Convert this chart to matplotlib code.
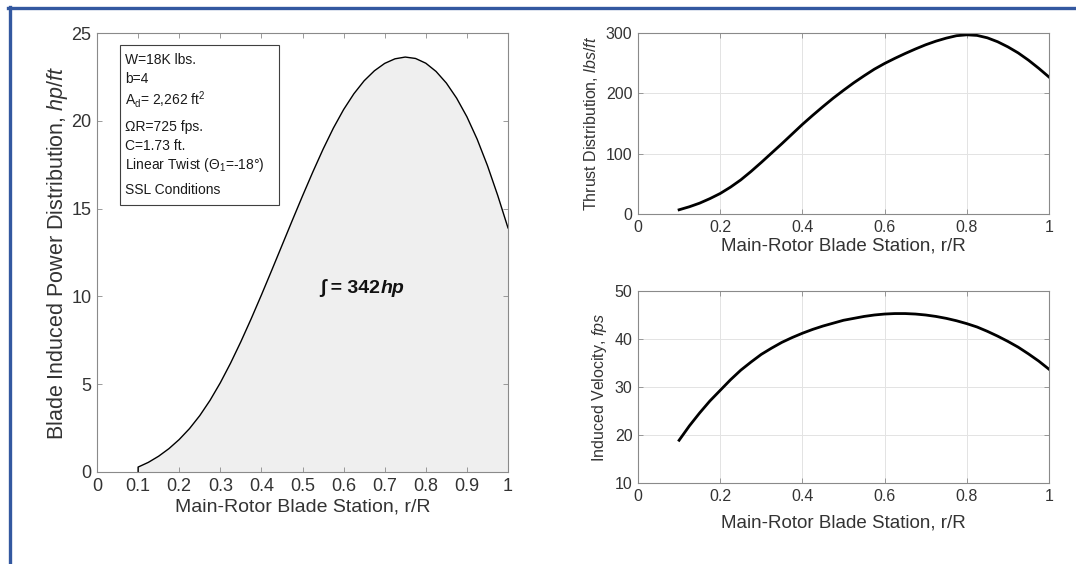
import matplotlib
matplotlib.use('Agg')
import matplotlib.pyplot as plt
from matplotlib.patches import Rectangle
from matplotlib.lines import Line2D
import numpy as np

plt.rcParams['font.family'] = ['Liberation Sans', 'DejaVu Sans']
plt.rcParams['mathtext.fontset'] = 'custom'
plt.rcParams['mathtext.rm'] = 'Liberation Sans'
plt.rcParams['mathtext.it'] = 'Liberation Sans:italic'
plt.rcParams['mathtext.bf'] = 'Liberation Sans:bold'

# Data
station = [0.100, 0.125, 0.150, 0.175, 0.200, 0.225, 0.250, 0.275, 0.300,
           0.325, 0.350, 0.375, 0.400, 0.425, 0.450, 0.475, 0.500, 0.525,
           0.550, 0.575, 0.600, 0.625, 0.650, 0.675, 0.700, 0.725, 0.750,
           0.775, 0.800, 0.825, 0.850, 0.875, 0.900, 0.925, 0.950, 0.975, 1.000]
power = [0.28, 0.55, 0.90, 1.33, 1.85, 2.47, 3.21, 4.08, 5.08,
         6.20, 7.42, 8.72, 10.08, 11.48, 12.90, 14.32, 15.72, 17.08,
         18.38, 19.58, 20.64, 21.54, 22.28, 22.85, 23.27, 23.53, 23.63,
         23.55, 23.28, 22.81, 22.15, 21.29, 20.23, 18.95, 17.45, 15.75, 13.90]
thrust = [7, 12, 18, 25.5, 34, 44.5, 56.5, 70.5, 85.5,
          101, 116.5, 132.5, 148.5, 163.5, 178, 192, 205, 217.5,
          229, 240, 249.5, 258, 266, 273.5, 280.5, 286.5, 291.5,
          295.5, 297, 296, 292, 285.5, 277, 267, 255, 241.5, 227]
velocity = [18.9, 21.9, 24.6, 27.1, 29.3, 31.5, 33.5, 35.2, 36.8,
            38.1, 39.3, 40.3, 41.2, 42.0, 42.7, 43.3, 43.9, 44.3,
            44.7, 45.0, 45.2, 45.3, 45.3, 45.2, 45.0, 44.7, 44.3,
            43.8, 43.2, 42.5, 41.6, 40.6, 39.5, 38.3, 36.9, 35.4, 33.7]

box_lines = ['W=18K lbs.', 'b=4', r'A$_\mathrm{d}$= 2,262 ft$^\mathrm{2}$',
             'ΩR=725 fps.', 'C=1.73 ft.', r'Linear Twist (Θ$_\mathrm{1}$=-18°)',
             'SSL Conditions']
box_baselines = [63.5, 83, 105, 130.5, 149.5, 169, 193.5]  # pixel rows

W, H = 1076, 564
fig = plt.figure(figsize=(W / 100, H / 100), dpi=100)

tick_col = '#333333'
spine_col = '#8a8a8a'


def style(ax, fs):
    ax.tick_params(direction='in', top=True, right=True, length=3.5, width=0.6,
                   color=spine_col, labelcolor=tick_col, labelsize=fs, pad=4)
    for s in ax.spines.values():
        s.set_color(spine_col)
        s.set_linewidth(0.8)


# Left: induced power distribution
ax1 = fig.add_axes([97 / W, (H - 472) / H, 411 / W, 439 / H])
ax1.fill_between(station, power, 0, facecolor='#efefef', edgecolor='none')
ax1.plot(np.r_[station[0], station], np.r_[0, power], color='black', lw=1.0)
ax1.set_xlim(0, 1)
ax1.set_ylim(0, 25)
ax1.set_xticks(np.arange(0, 1.01, 0.1))
ax1.set_xticklabels(['0', '0.1', '0.2', '0.3', '0.4', '0.5', '0.6', '0.7', '0.8', '0.9', '1'])
ax1.set_yticks([0, 5, 10, 15, 20, 25])
style(ax1, 13)
ax1.set_xlabel('Main-Rotor Blade Station, r/R', fontsize=14, color=tick_col, labelpad=3)
ax1.set_ylabel(r'Blade Induced Power Distribution, $\mathit{hp/ft}$', fontsize=15.5,
               color=tick_col, labelpad=1)

ax1.add_patch(Rectangle((0.056, 0.608), 0.387, 0.365, transform=ax1.transAxes,
                        facecolor='white', edgecolor='#404040', lw=0.8, zorder=3))
for line, b in zip(box_lines, box_baselines):
    ax1.text(0.068, (472 - b) / 439, line, transform=ax1.transAxes, fontsize=10,
             va='baseline', ha='left', color='#1a1a1a', zorder=4)

t1 = ax1.text(0.617, 10.5, '∫ = 342', fontsize=14, fontweight='bold',
              ha='center', va='center', color='#111111')
ax1.annotate('hp', xy=(1, 0), xycoords=t1, va='bottom', ha='left', fontsize=14,
             fontweight='bold', fontstyle='italic', color='#111111')

# Top right: thrust distribution
ax2 = fig.add_axes([638 / W, (H - 214) / H, 411 / W, 181 / H])
ax2.plot(station, thrust, color='black', lw=2.0)
ax2.set_xlim(0, 1)
ax2.set_ylim(0, 300)
ax2.set_xticks([0, 0.2, 0.4, 0.6, 0.8, 1.0])
ax2.set_xticklabels(['0', '0.2', '0.4', '0.6', '0.8', '1'])
ax2.set_yticks([0, 100, 200, 300])
ax2.grid(True, color='#e3e3e3', lw=0.7)
style(ax2, 11.5)
ax2.set_xlabel('Main-Rotor Blade Station, r/R', fontsize=13.5, color=tick_col, labelpad=2)
ax2.set_ylabel(r'Thrust Distribution, $\mathit{lbs/ft}$', fontsize=11.5, color=tick_col)

# Bottom right: induced velocity
ax3 = fig.add_axes([638 / W, (H - 483) / H, 411 / W, 192 / H])
ax3.plot(station, velocity, color='black', lw=2.0)
ax3.set_xlim(0, 1)
ax3.set_ylim(10, 50)
ax3.set_xticks([0, 0.2, 0.4, 0.6, 0.8, 1.0])
ax3.set_xticklabels(['0', '0.2', '0.4', '0.6', '0.8', '1'])
ax3.set_yticks([10, 20, 30, 40, 50])
ax3.grid(True, color='#e3e3e3', lw=0.7)
style(ax3, 11.5)
ax3.set_xlabel('Main-Rotor Blade Station, r/R', fontsize=13.5, color=tick_col, labelpad=8)
ax3.set_ylabel(r'Induced Velocity, $\mathit{fps}$', fontsize=11.5, color=tick_col)

# Blue page border (left and top)
fig.add_artist(Line2D([9.5 / W, 9.5 / W], [0, 1 - 6.7 / H], color='#3358a0', lw=2.4))
fig.add_artist(Line2D([8 / W, 1], [1 - 8.2 / H, 1 - 8.2 / H], color='#3358a0', lw=2.4))

plt.savefig('out.png', dpi=100)
